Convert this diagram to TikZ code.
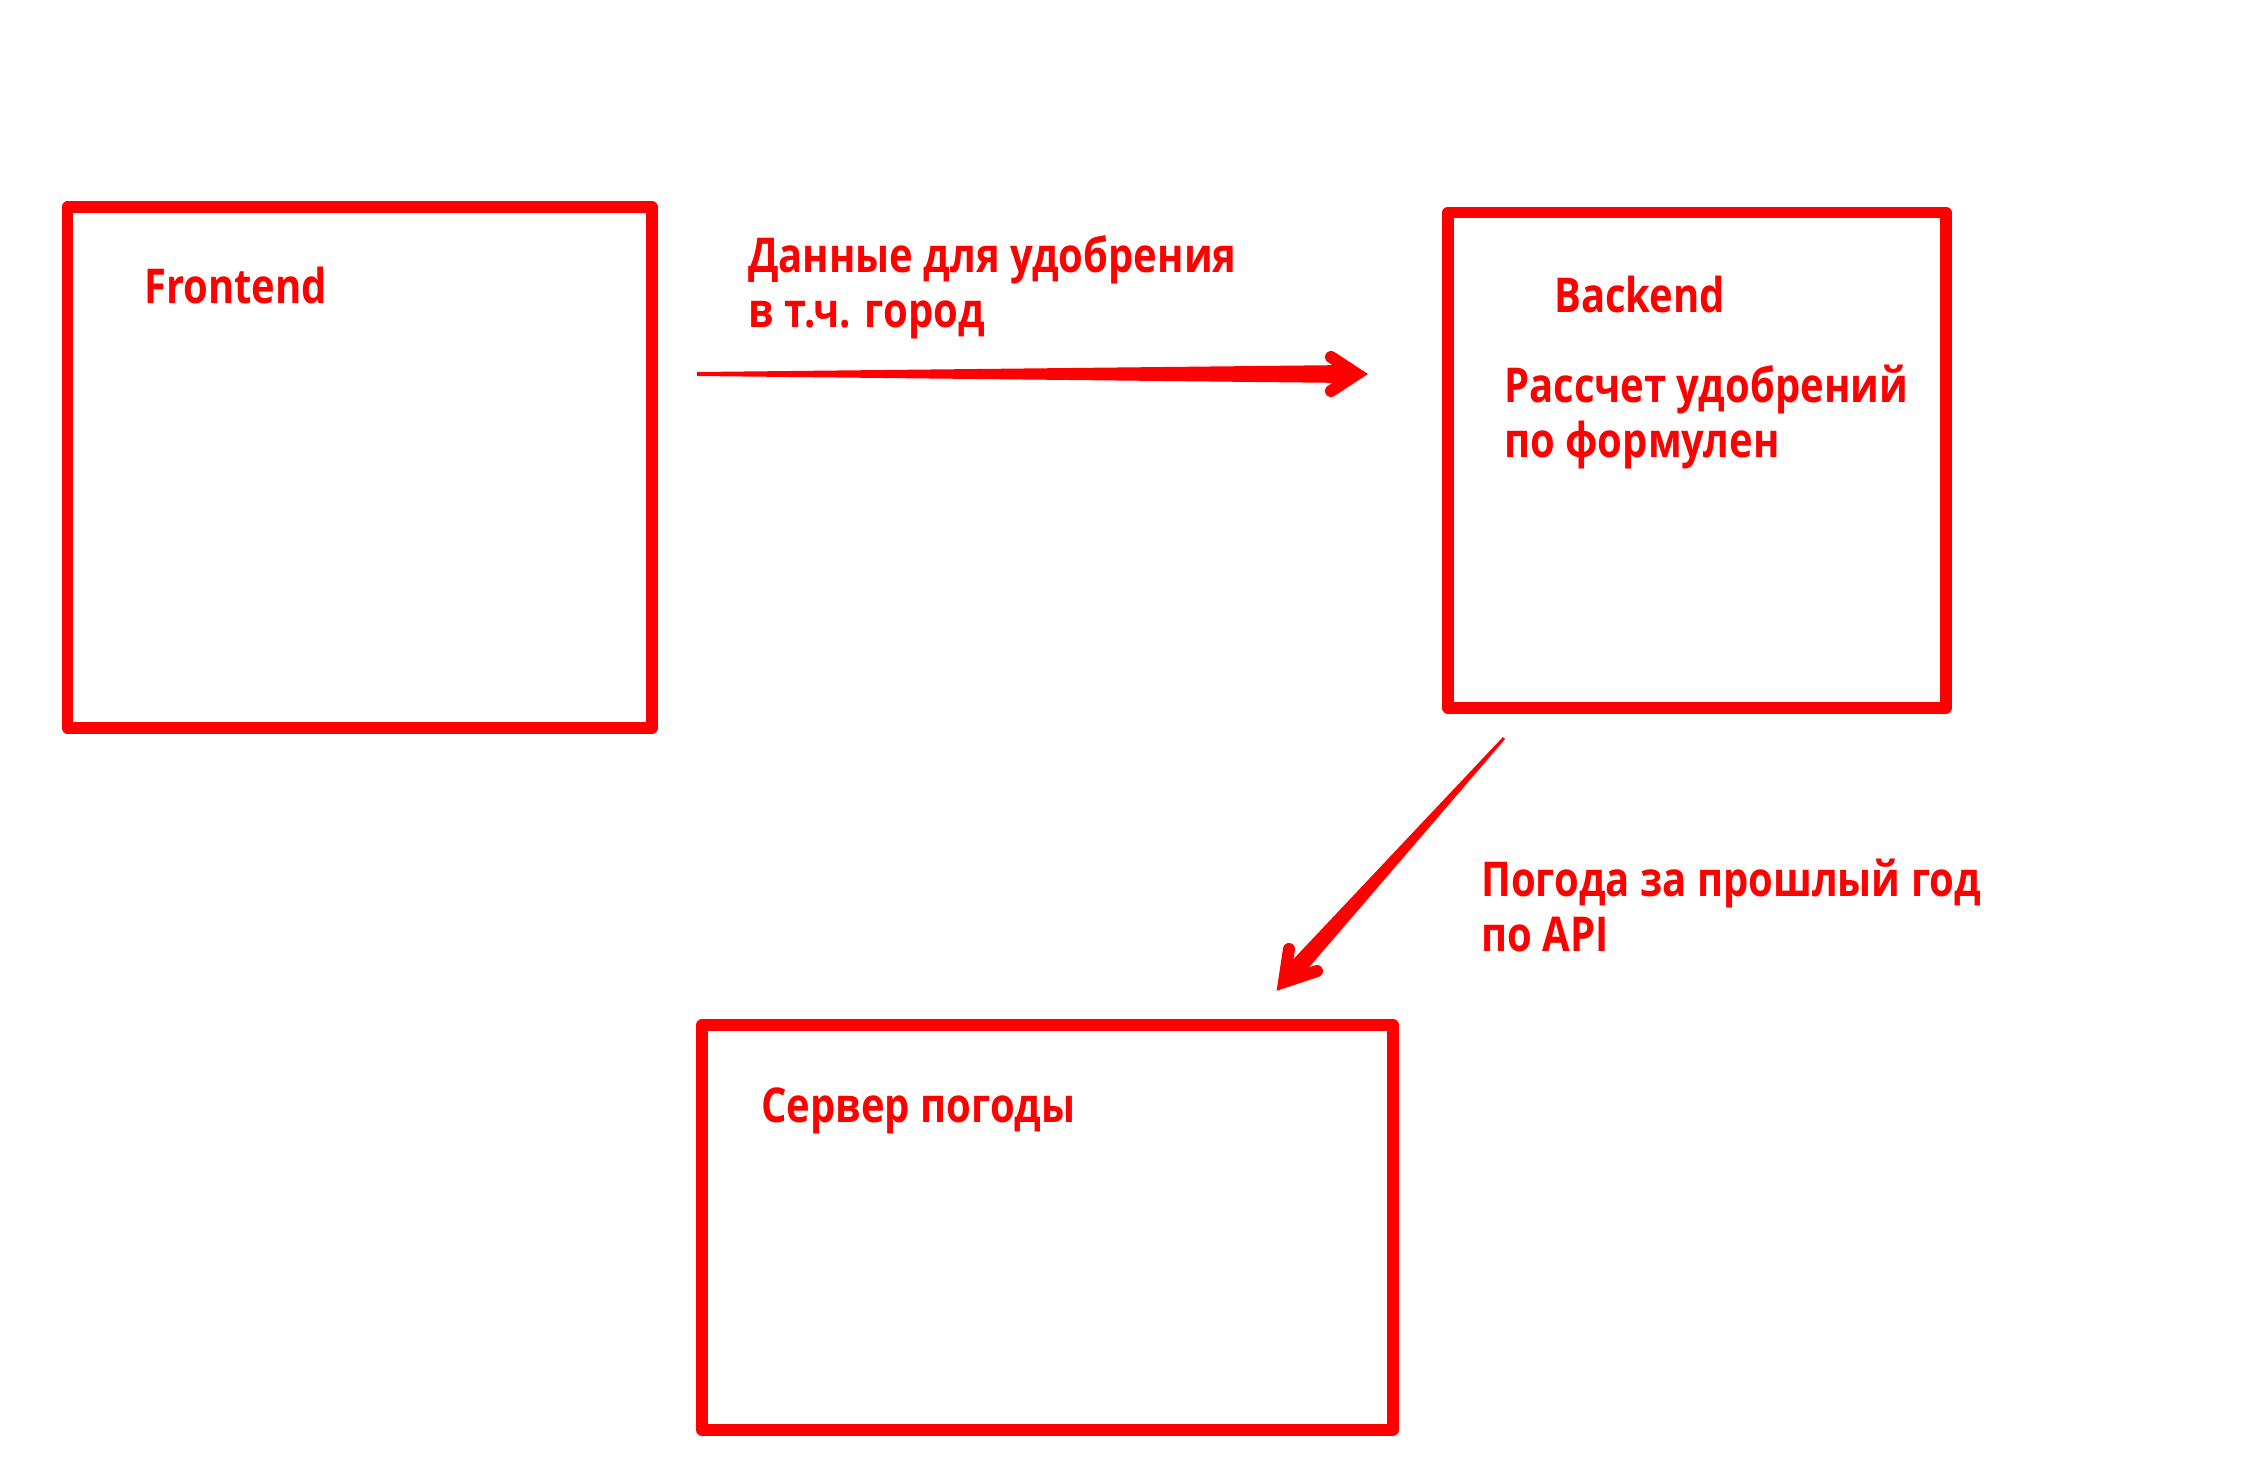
\documentclass[tikz,border=0pt]{standalone}
\usepackage{fontspec}
\usepackage{graphicx}
\setmainfont{Open Sans}
\newcommand\talltext[1]{\scalebox{1}[1.2]{#1}}
\newcommand\lblfont{\bfseries\fontsize{40}{55}\selectfont\setlength{\lineskiplimit}{-200pt}}
\begin{document}
\begin{tikzpicture}[x=1pt,y=-1pt,
  box/.style={draw=red, line width=11.5pt, line join=round, anchor=north west, inner sep=0pt, outer sep=0pt},
  lbl/.style={text=red, font={\lblfont}, anchor=base west, align=left, inner sep=0pt},
  head/.style={draw=red, line width=12pt, line cap=round, line join=miter, miter limit=10}]
\useasboundingbox[fill=white] (0,0) rectangle (2252,1473);
% boxes
\node[box, minimum width=584.5pt, minimum height=521pt] (front) at (67.5,207) {};
\node[box, minimum width=498pt, minimum height=495.5pt] (back) at (1448,212.5) {};
\node[box, minimum width=691pt, minimum height=405pt] (server) at (702,1025) {};
% labels (multi-line nodes are anchored at the baseline of their last line)
\node[lbl] (tfront) at (144,303) {\talltext{Frontend}};
\node[lbl] (tdata) at (748,327.5) {\talltext{Данные для удобрения}\\\talltext{в т.ч. город}};
\node[lbl] (tback) at (1554,312) {\talltext{Backend}};
\node[lbl] (tcalc) at (1504,457) {\talltext{Рассчет удобрений}\\\talltext{по формулен}};
\node[lbl] (tweather) at (1481,951) {\talltext{Погода за прошлый год}\\\talltext{по API}};
\node[lbl] (tserver) at (761,1122) {\talltext{Сервер погоды}};
% arrow 1: Frontend side -> Backend
\coordinate (a1s) at (697,374);
\coordinate (a1e) at (1350,374);
\coordinate (a1t) at (1357,374);
\fill[red] ([yshift=-2pt]a1s) -- ([yshift=-9pt]a1e) -- ([yshift=9pt]a1e) -- ([yshift=2pt]a1s) -- cycle;
\draw[head] (1331,357) -- (a1t) -- (1331,391);
% arrow 2: Backend -> weather server
\coordinate (a2s) at (1504,738);
\coordinate (a2e) at (1288,978);
\coordinate (a2t) at (1284,982);
\fill[red] ([shift={(-1.1,-1)}]a2s) -- ([shift={(-6.7,-6)}]a2e) -- ([shift={(6.7,6)}]a2e) -- ([shift={(1.1,1)}]a2s) -- cycle;
\draw[head] (1289,949) -- (a2t) -- (1317,971);
\end{tikzpicture}
\end{document}
